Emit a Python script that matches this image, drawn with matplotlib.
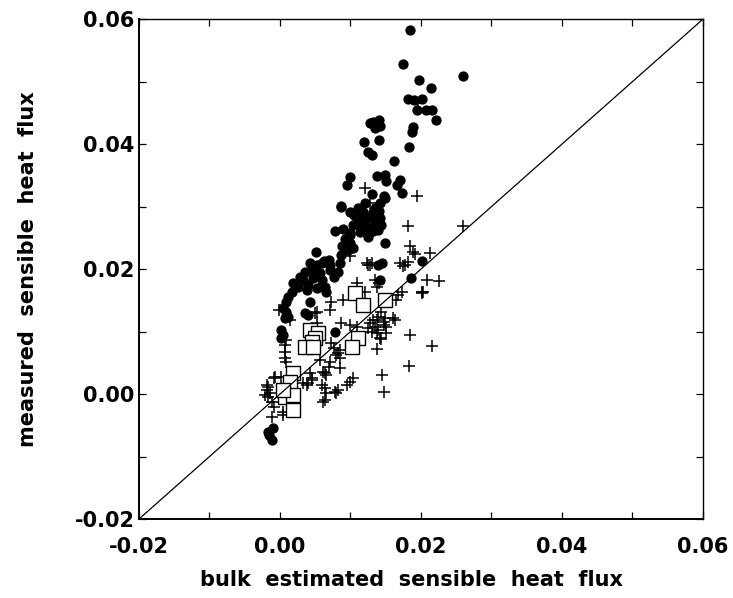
# bulk vs measured sensible heat flux scatter
import numpy as np
import matplotlib
matplotlib.use("Agg")
import matplotlib.pyplot as plt
from matplotlib.ticker import MultipleLocator, FormatStrFormatter

# ---------------------------------------------------------
# DATA
# ---------------------------------------------------------
# filled circles
dot_x = [0.0184, 0.0175, 0.0259, 0.0197, 0.0214, 0.0181, 0.0190, 0.0201, 0.0195, 0.0207,
         0.0216, 0.0222, 0.0141, 0.0132, 0.0142, 0.0189, 0.0128, 0.0135, 0.0187, 0.0119,
         0.0140, 0.0125, 0.0130, 0.0183, 0.0162, 0.0099, 0.0095, 0.0138, 0.0149, 0.0151,
         0.0170, 0.0166, 0.0173, 0.0130, 0.0148, 0.0149, 0.0142, 0.0086, 0.0135, 0.0099,
         0.0113, 0.0118, 0.0132, 0.0141, 0.0109, 0.0121, 0.0128, 0.0135, 0.0142, 0.0104,
         0.0113, 0.0123, 0.0135, 0.0138, 0.0144, 0.0078, 0.0090, 0.0099, 0.0113, 0.0128,
         0.0139, 0.0132, 0.0100, 0.0125, 0.0099, 0.0104, 0.0097, 0.0086, 0.0051, 0.0139,
         0.0043, 0.0052, 0.0059, 0.0071, 0.0085, 0.0035, 0.0045, 0.0057, 0.0071, 0.0083,
         0.0033, 0.0047, 0.0059, 0.0076, 0.0019, 0.0040, 0.0052, 0.0064, 0.0017, 0.0038,
         0.0066, 0.0012, 0.0009, 0.0042, 0.0005, 0.0009, 0.0007, 0.0012, 0.0040, 0.0002,
         0.0005, 0.0002, 0.0149, 0.0145, 0.0201, 0.0186, 0.0142, -0.0017, -0.0010, -0.0012,
         -0.0015, 0.0087, 0.0110, 0.0120, 0.0105, 0.0070, 0.0063, 0.0028, 0.0025, 0.0092,
         0.0088, 0.0078, 0.0035]
dot_y = [0.0582, 0.0529, 0.0509, 0.0502, 0.0490, 0.0472, 0.0470, 0.0472, 0.0454, 0.0454,
         0.0454, 0.0439, 0.0439, 0.0436, 0.0429, 0.0428, 0.0433, 0.0425, 0.0420, 0.0403,
         0.0407, 0.0388, 0.0383, 0.0395, 0.0373, 0.0347, 0.0334, 0.0349, 0.0351, 0.0341,
         0.0342, 0.0334, 0.0322, 0.0320, 0.0317, 0.0313, 0.0305, 0.0301, 0.0298, 0.0291,
         0.0294, 0.0292, 0.0292, 0.0293, 0.0281, 0.0278, 0.0284, 0.0284, 0.0281, 0.0270,
         0.0271, 0.0268, 0.0276, 0.0273, 0.0271, 0.0261, 0.0264, 0.0257, 0.0260, 0.0259,
         0.0262, 0.0261, 0.0255, 0.0252, 0.0241, 0.0233, 0.0230, 0.0222, 0.0227, 0.0207,
         0.0209, 0.0206, 0.0209, 0.0206, 0.0209, 0.0196, 0.0198, 0.0193, 0.0198, 0.0196,
         0.0182, 0.0185, 0.0182, 0.0188, 0.0177, 0.0174, 0.0169, 0.0172, 0.0164, 0.0166,
         0.0164, 0.0156, 0.0148, 0.0148, 0.0137, 0.0132, 0.0121, 0.0124, 0.0126, 0.0102,
         0.0094, 0.0089, 0.0242, 0.0209, 0.0213, 0.0186, 0.0182, -0.0060, -0.0055, -0.0074,
         -0.0065, 0.0300, 0.0298, 0.0306, 0.0286, 0.0215, 0.0213, 0.0188, 0.0172, 0.0248,
         0.0237, 0.0100, 0.0129]

# plus signs
plus_x = [0.0196, 0.0121, 0.0128, 0.0195, 0.0182, 0.0259, 0.0099, 0.0125, 0.0109, 0.0121,
          0.0135, 0.0137, 0.0073, 0.0090, -0.0002, 0.0071, 0.0052, 0.0014, 0.0052, 0.0185,
          0.0189, 0.0191, 0.0213, 0.0130, 0.0170, 0.0175, 0.0182, 0.0141, 0.0208, 0.0225,
          0.0201, 0.0202, 0.0173, 0.0168, 0.0165, 0.0144, 0.0139, 0.0149, 0.0163, 0.0132,
          0.0135, 0.0147, 0.0151, 0.0185, 0.0144, 0.0137, 0.0216, 0.0183, 0.0145, 0.0148,
          0.0009, 0.0007, 0.0007, 0.0009, -0.0007, -0.0009, 0.0043, 0.0045, 0.0040, 0.0038,
          0.0061, 0.0066, 0.0071, 0.0069, 0.0085, 0.0080, 0.0085, 0.0073, 0.0076, 0.0083,
          0.0085, 0.0064, 0.0066, 0.0064, 0.0061, 0.0078, 0.0083, 0.0095, 0.0099, 0.0104,
          -0.0019, -0.0014, -0.0021, -0.0017, -0.0012, -0.0009, -0.0012, 0.0005, 0.0005, -0.0019,
          -0.0017, 0.0059, 0.0123, 0.0128, 0.0177, 0.0203, 0.0050, 0.0087, 0.0099, 0.0109,
          0.0137, 0.0147, 0.0161, 0.0151, 0.0139, 0.0137, 0.0142, 0.0128, 0.0125, 0.0130,
          0.0057, 0.0033, 0.0064, 0.0045, 0.0007, 0.0080, 0.0002]
plus_y = [0.0465, 0.0330, 0.0305, 0.0317, 0.0269, 0.0269, 0.0221, 0.0207, 0.0178, 0.0164,
          0.0182, 0.0172, 0.0148, 0.0150, 0.0134, 0.0134, 0.0132, 0.0119, 0.0113, 0.0237,
          0.0228, 0.0224, 0.0226, 0.0209, 0.0209, 0.0205, 0.0212, 0.0177, 0.0183, 0.0181,
          0.0164, 0.0161, 0.0164, 0.0158, 0.0150, 0.0132, 0.0124, 0.0121, 0.0119, 0.0118,
          0.0108, 0.0110, 0.0097, 0.0094, 0.0088, 0.0072, 0.0077, 0.0045, 0.0030, 0.0004,
          0.0086, 0.0068, 0.0057, 0.0052, 0.0028, 0.0025, 0.0033, 0.0025, 0.0017, 0.0014,
          0.0036, 0.0030, 0.0052, 0.0044, 0.0041, 0.0062, 0.0057, 0.0081, 0.0073, 0.0065,
          0.0070, 0.0009, 0.0001, -0.0010, -0.0012, 0.0004, 0.0006, 0.0014, 0.0020, 0.0025,
          0.0006, 0.0001, -0.0002, -0.0004, -0.0012, -0.0020, -0.0036, -0.0028, -0.0034, 0.0014,
          0.0012, 0.0014, 0.0209, 0.0206, 0.0206, 0.0164, 0.0129, 0.0113, 0.0110, 0.0108,
          0.0118, 0.0116, 0.0121, 0.0108, 0.0102, 0.0097, 0.0089, 0.0113, 0.0105, 0.0100,
          0.0054, 0.0017, 0.0033, 0.0022, 0.0078, 0.0002, 0.0028]

# open squares
sq_x = [0.0106, 0.0118, 0.0149, 0.0111, 0.0102, 0.0043, 0.0054, 0.0050, 0.0045, 0.0035,
        0.0047, 0.0019, 0.0014, 0.0007, 0.0019, 0.0019, 0.0005]
sq_y = [0.0161, 0.0142, 0.0150, 0.0089, 0.0076, 0.0102, 0.0097, 0.0089, 0.0084, 0.0076,
        0.0076, 0.0033, 0.0020, -0.0004, -0.0002, -0.0026, 0.0006]

one_to_one = [-0.02, 0.06]

# ---------------------------------------------------------
# PLOT
# ---------------------------------------------------------
plt.rcParams["font.family"] = ["DejaVu Sans"]
plt.rcParams["font.weight"] = "bold"
plt.rcParams["axes.labelweight"] = "bold"

fig = plt.figure(figsize=(7.33, 5.98), dpi=100)
ax = fig.add_axes([0.1896, 0.132, 0.7694, 0.836])

ax.plot(dot_x, dot_y, "o", color="black", markersize=6.4, zorder=2)
ax.plot(plus_x, plus_y, "+", color="black", markersize=9, markeredgewidth=1.1, zorder=3)
ax.plot(sq_x, sq_y, "s", markerfacecolor="white", markeredgecolor="black",
        markersize=10.5, markeredgewidth=1.0, zorder=4)
ax.plot(one_to_one, one_to_one, color="black", linewidth=0.9, zorder=5)

ax.set_xlim(-0.02, 0.06)
ax.set_ylim(-0.02, 0.06)

for axis in (ax.xaxis, ax.yaxis):
    axis.set_major_locator(MultipleLocator(0.02))
    axis.set_minor_locator(MultipleLocator(0.01))
    axis.set_major_formatter(FormatStrFormatter("%.2f"))

ax.tick_params(which="both", direction="in", top=True, right=True,
               length=5, width=0.9, labelsize=15)
ax.tick_params(axis="x", pad=13)
ax.tick_params(axis="y", pad=3)

for s in ("left", "bottom"):
    ax.spines[s].set_linewidth(1.4)
for s in ("top", "right"):
    ax.spines[s].set_linewidth(1.0)

ax.set_xlabel("bulk  estimated  sensible  heat  flux", fontsize=15)
ax.set_ylabel("measured  sensible  heat  flux", fontsize=15)
ax.xaxis.set_label_coords(0.484, -0.102)
ax.yaxis.set_label_coords(-0.179, 0.5)

fig.savefig("out.png", dpi=100)
